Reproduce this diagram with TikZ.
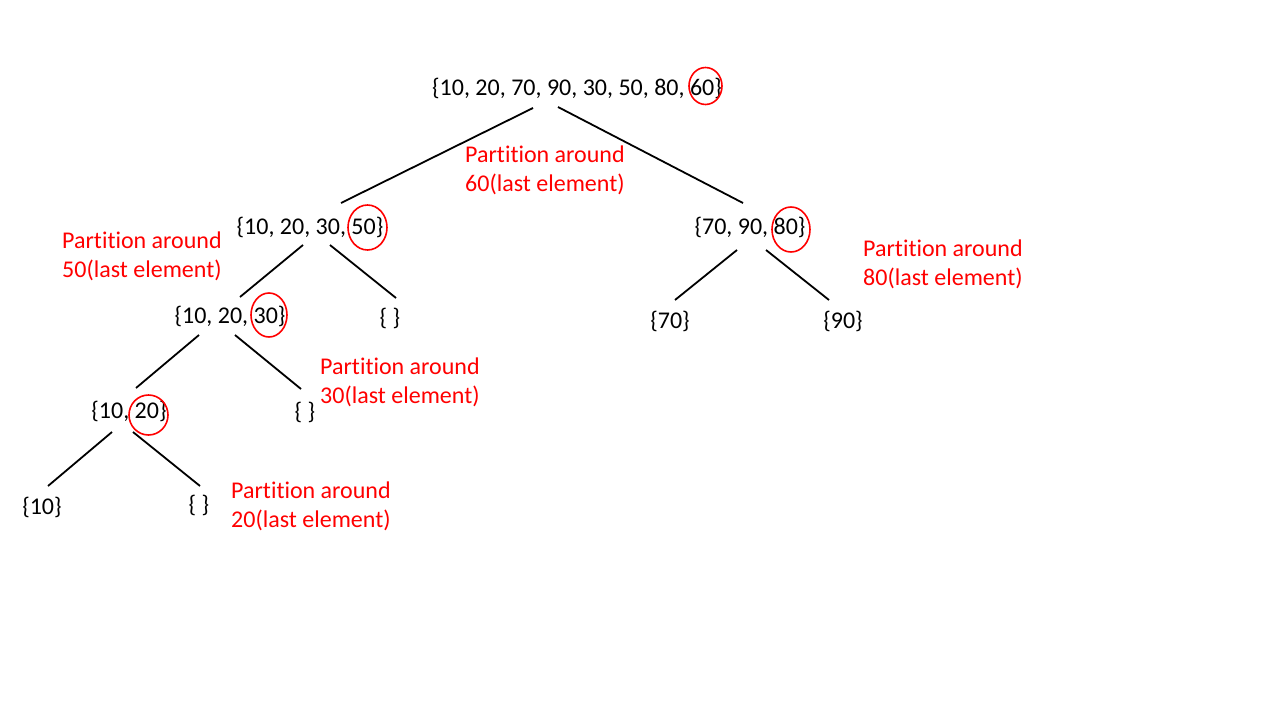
\documentclass[tikz,border=0pt]{standalone}
\usepackage{fontspec}
\setmainfont[Ligatures=NoCommon]{Carlito}
\usetikzlibrary{shapes.geometric}
\begin{document}
\begin{tikzpicture}[x=1pt,y=-1pt,
  every node/.style={font=\fontsize{24}{29}\selectfont},
  setnode/.style={inner sep=0pt},
  note/.style={text=red,align=left,anchor=west,inner sep=0pt},
  edge/.style={draw=black,line width=1.8pt},
  pivot/.style={ellipse,draw=red,line width=1.6pt,inner sep=0pt}]
\useasboundingbox (0,0) rectangle (1280,720);
% set nodes
\node[setnode] (root) at (577,88) {\{10, 20, 70, 90, 30, 50, 80, 60\}};
\node[setnode] (L) at (310,227) {\{10, 20, 30, 50\}};
\node[setnode] (R) at (750,227) {\{70, 90, 80\}};
\node[setnode] (LL) at (230,316) {\{10, 20, 30\}};
\node[setnode] (LR) at (390,318) {\{ \}};
\node[setnode] (RL) at (670,321) {\{70\}};
\node[setnode] (RR) at (843,321) {\{90\}};
\node[setnode] (LLL) at (129,411) {\{10, 20\}};
\node[setnode] (LLR) at (305,412) {\{ \}};
\node[setnode] (LLLL) at (42,507) {\{10\}};
\node[setnode] (LLLR) at (199,505) {\{ \}};
% pivot circles
\node[pivot,minimum width=33pt,minimum height=37pt] (c60) at (705.5,86) {};
\node[pivot,minimum width=39pt,minimum height=45pt] (c50) at (367.5,227.5) {};
\node[pivot,minimum width=36pt,minimum height=44pt] (c30) at (269,315) {};
\node[pivot,minimum width=39pt,minimum height=40pt] (c20) at (148.5,415) {};
\node[pivot,minimum width=38pt,minimum height=45pt] (c80) at (791,229.5) {};
% notes
\node[note] (p60) at (465,170) {Partition around\\60(last element)};
\node[note] (p50) at (62,256) {Partition around\\50(last element)};
\node[note] (p80) at (863,264) {Partition around\\80(last element)};
\node[note] (p30) at (320,382) {Partition around\\30(last element)};
\node[note] (p20) at (231,506) {Partition around\\20(last element)};
% connectors
\draw[edge] ([shift={(-44,20)}]root.center) -- ([shift={(31,-24)}]L.center);
\draw[edge] ([shift={(-19,19)}]root.center) -- ([shift={(-7,-24)}]R.center);
\draw[edge] ([shift={(-7,18)}]L.center) -- ([shift={(10,-19)}]LL.center);
\draw[edge] ([shift={(20,18)}]L.center) -- ([shift={(6,-20)}]LR.center);
\draw[edge] ([shift={(-13,23)}]R.center) -- ([shift={(5,-21)}]RL.center);
\draw[edge] ([shift={(16,23)}]R.center) -- ([shift={(-14,-21)}]RR.center);
\draw[edge] ([shift={(-31,19)}]LL.center) -- ([shift={(7,-23)}]LLL.center);
\draw[edge] ([shift={(5,19)}]LL.center) -- ([shift={(-4,-23)}]LLR.center);
\draw[edge] ([shift={(-17,21)}]LLL.center) -- ([shift={(6,-21)}]LLLL.center);
\draw[edge] ([shift={(4,21)}]LLL.center) -- ([shift={(1,-19)}]LLLR.center);
\end{tikzpicture}
\end{document}
